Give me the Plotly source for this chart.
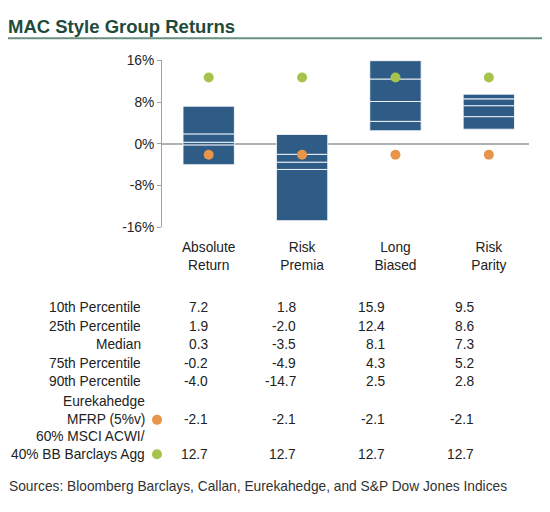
import plotly.graph_objects as go

# Figure size chosen so the page (with the default 8px body margin) fits the window.
M = 8
W, H = 550 - 2 * M, 512 - 2 * M
# empirical vertical mapping of the rendered page -> picture
Y_OFF, Y_SCALE = 15.9, 0.968

categories = ["Absolute Return", "Risk Premia", "Long Biased", "Risk Parity"]
cat_ticktext = ["Absolute<br>Return", "Risk<br>Premia", "Long<br>Biased", "Risk<br>Parity"]
p10 = [7.2, 1.8, 15.9, 9.5]
p25 = [1.9, -2.0, 12.4, 8.6]
median = [0.3, -3.5, 8.1, 7.3]
p75 = [-0.2, -4.9, 4.3, 5.2]
p90 = [-4.0, -14.7, 2.5, 2.8]
eureka = [-2.1, -2.1, -2.1, -2.1]
msci = [12.7, 12.7, 12.7, 12.7]
y_tickvals = [16, 8, 0, -8, -16]
y_ticktext = ["16%", "8%", "0%", "-8%", "-16%"]

BOX = "#2f5b87"
GREEN = "#a6c34b"
ORANGE = "#e6954b"
FONT = "Liberation Sans, Arial, Helvetica, sans-serif"
TXT = "#222222"
FS = 13.75


def px(x):
    return (x - M) / W


def py(y):
    return 1 - ((y - Y_OFF) / Y_SCALE) / H


fig = go.Figure()

# Box segments (90th->75th, 75th->median, median->25th, 25th->10th)
segments = [(p90, p75), (p75, median), (median, p25), (p25, p10)]
for lo, hi in segments:
    fig.add_trace(go.Bar(
        x=categories,
        base=lo,
        y=[h - l for h, l in zip(hi, lo)],
        width=0.55,
        marker=dict(color=BOX, line=dict(color="rgba(255,255,255,0.85)", width=1)),
        hoverinfo="skip",
        showlegend=False,
    ))

fig.add_trace(go.Scatter(
    x=categories, y=msci, mode="markers",
    marker=dict(color=GREEN, size=10, line=dict(width=0)),
    showlegend=False,
))
fig.add_trace(go.Scatter(
    x=categories, y=eureka, mode="markers",
    marker=dict(color=ORANGE, size=10, line=dict(width=0)),
    showlegend=False,
))

annotations = []
annotations.append(dict(
    text="<b>MAC Style Group Returns</b>", x=px(7), y=1, xref="paper", yref="paper",
    xanchor="left", yanchor="top", showarrow=False, borderpad=0,
    font=dict(family=FONT, size=18.5, color="#1f4b3b"),
))
annotations.append(dict(
    text="Sources: Bloomberg Barclays, Callan, Eurekahedge, and S&P Dow Jones Indices",
    x=px(7), y=py(487), xref="paper", yref="paper",
    xanchor="left", yanchor="middle", showarrow=False,
    font=dict(family=FONT, size=FS, color="#333333"),
))

row_labels = ["10th Percentile", "25th Percentile", "Median", "75th Percentile", "90th Percentile"]
row_vals = [p10, p25, median, p75, p90]
row_y = [308.3, 326.7, 345, 363.3, 381.7]
col_x = [210, 298, 387, 476]

for lab, vals, yy in zip(row_labels, row_vals, row_y):
    annotations.append(dict(
        text=lab, x=px(143), y=py(yy), xref="paper", yref="paper",
        xanchor="right", yanchor="middle", showarrow=False,
        font=dict(family=FONT, size=FS, color=TXT),
    ))
    for v, cx in zip(vals, col_x):
        annotations.append(dict(
            text=f"{v:.1f}", x=px(cx), y=py(yy), xref="paper", yref="paper",
            xanchor="right", yanchor="middle", showarrow=False,
            font=dict(family=FONT, size=FS, color=TXT),
        ))

extra_rows = [
    ("Eurekahedge", 401.7, None),
    ("MFRP (5%v)", 420, eureka),
    ("60% MSCI ACWI/", 436.7, None),
    ("40% BB Barclays Agg", 454.3, msci),
]
for lab, yy, vals in extra_rows:
    annotations.append(dict(
        text=lab, x=px(147), y=py(yy), xref="paper", yref="paper",
        xanchor="right", yanchor="middle", showarrow=False,
        font=dict(family=FONT, size=FS, color=TXT),
    ))
    if vals is not None:
        for v, cx in zip(vals, col_x):
            annotations.append(dict(
                text=f"{v:.1f}", x=px(cx), y=py(yy), xref="paper", yref="paper",
                xanchor="right", yanchor="middle", showarrow=False,
                font=dict(family=FONT, size=FS, color=TXT),
            ))

shapes = [
    dict(type="line", xref="paper", yref="paper", x0=px(8), x1=px(542), y0=py(39), y1=py(39),
         line=dict(color="#6a8e7f", width=2)),
    dict(type="circle", xref="paper", yref="paper", x0=px(152), x1=px(162), y0=py(425), y1=py(415),
         fillcolor=ORANGE, line=dict(width=0)),
    dict(type="circle", xref="paper", yref="paper", x0=px(152), x1=px(162), y0=py(459.3), y1=py(449.3),
         fillcolor=GREEN, line=dict(width=0)),
]

fig.update_layout(
    width=W, height=H, autosize=False,
    margin=dict(l=0, r=0, t=0, b=0),
    paper_bgcolor="white", plot_bgcolor="white",
    barmode="overlay",
    showlegend=False,
    annotations=annotations,
    shapes=shapes,
    font=dict(family=FONT, size=FS, color=TXT),
    xaxis=dict(
        domain=[px(162), px(529)],
        range=[-0.5, 3.43],
        tickmode="array", tickvals=categories, ticktext=cat_ticktext,
        showgrid=False, showline=False, zeroline=False, ticks="",
        tickfont=dict(family=FONT, size=FS, color=TXT),
        ticklabelstandoff=10,
        fixedrange=True,
    ),
    yaxis=dict(
        domain=[py(228), py(61)],
        range=[-16, 16],
        tickmode="array", tickvals=y_tickvals, ticktext=y_ticktext,
        showgrid=False, showline=True, linecolor="#a0a0a0", linewidth=1,
        ticks="outside", ticklen=4, tickcolor="#a0a0a0",
        zeroline=True, zerolinecolor="#b0b0b0", zerolinewidth=1.5,
        tickfont=dict(family=FONT, size=FS, color=TXT),
        fixedrange=True,
    ),
)

fig.write_html("out.html")
